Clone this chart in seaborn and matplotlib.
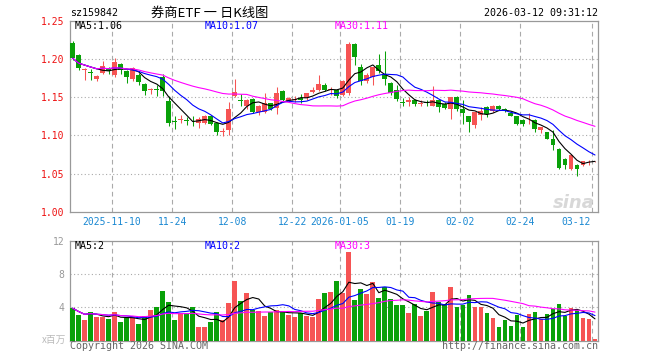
import numpy as np
import pandas as pd
import matplotlib
matplotlib.use("Agg")
import matplotlib.pyplot as plt
import seaborn as sns

# daily OHLC (88 trading days)
opens = [1.221, 1.205, 1.185, 1.183, 1.174, 1.182, 1.188, 1.179, 1.193, 1.184,
         1.174, 1.179, 1.167, 1.159, 1.160, 1.177, 1.145, 1.119, 1.120, 1.120,
         1.118, 1.116, 1.116, 1.125, 1.116, 1.105, 1.107, 1.151, 1.147, 1.139,
         1.148, 1.131, 1.131, 1.142, 1.136, 1.158, 1.145, 1.147, 1.149, 1.149,
         1.157, 1.160, 1.166, 1.159, 1.160, 1.153, 1.155, 1.219, 1.190, 1.171,
         1.176, 1.192, 1.180, 1.168, 1.160, 1.144, 1.144, 1.146, 1.141, 1.144,
         1.139, 1.147, 1.141, 1.135, 1.150, 1.134, 1.125, 1.114, 1.127, 1.137,
         1.132, 1.139, 1.134, 1.130, 1.125, 1.120, 1.117, 1.120, 1.107, 1.104,
         1.096, 1.082, 1.069, 1.056, 1.062, 1.062, 1.066, 1.066]
highs = [1.223, 1.207, 1.188, 1.187, 1.179, 1.197, 1.189, 1.201, 1.195, 1.185,
         1.190, 1.182, 1.169, 1.162, 1.166, 1.180, 1.151, 1.125, 1.127, 1.124,
         1.126, 1.124, 1.127, 1.127, 1.117, 1.110, 1.144, 1.174, 1.154, 1.148,
         1.149, 1.140, 1.156, 1.143, 1.164, 1.160, 1.150, 1.152, 1.154, 1.156,
         1.163, 1.179, 1.169, 1.163, 1.161, 1.172, 1.222, 1.221, 1.193, 1.181,
         1.190, 1.206, 1.210, 1.170, 1.166, 1.149, 1.150, 1.148, 1.147, 1.146,
         1.165, 1.148, 1.144, 1.150, 1.151, 1.147, 1.126, 1.131, 1.137, 1.138,
         1.140, 1.140, 1.136, 1.131, 1.126, 1.121, 1.129, 1.122, 1.111, 1.105,
         1.107, 1.083, 1.070, 1.076, 1.063, 1.067, 1.068, 1.067]
lows = [1.199, 1.185, 1.172, 1.173, 1.171, 1.180, 1.180, 1.177, 1.180, 1.169,
        1.171, 1.166, 1.153, 1.154, 1.152, 1.151, 1.113, 1.108, 1.116, 1.114,
        1.113, 1.110, 1.115, 1.114, 1.101, 1.099, 1.101, 1.150, 1.138, 1.134,
        1.129, 1.127, 1.129, 1.133, 1.128, 1.145, 1.144, 1.144, 1.143, 1.147,
        1.155, 1.158, 1.158, 1.153, 1.149, 1.151, 1.153, 1.192, 1.166, 1.169,
        1.166, 1.182, 1.166, 1.153, 1.145, 1.139, 1.138, 1.139, 1.139, 1.139,
        1.138, 1.131, 1.135, 1.121, 1.132, 1.115, 1.104, 1.110, 1.120, 1.124,
        1.131, 1.133, 1.131, 1.125, 1.114, 1.113, 1.115, 1.104, 1.103, 1.095,
        1.081, 1.056, 1.056, 1.055, 1.047, 1.060, 1.061, 1.065]
closes = [1.201, 1.188, 1.187, 1.182, 1.178, 1.191, 1.184, 1.196, 1.186, 1.176,
          1.188, 1.170, 1.158, 1.161, 1.159, 1.158, 1.116, 1.118, 1.121, 1.119,
          1.117, 1.121, 1.126, 1.115, 1.105, 1.106, 1.134, 1.157, 1.145, 1.147,
          1.131, 1.139, 1.143, 1.134, 1.156, 1.147, 1.149, 1.148, 1.147, 1.155,
          1.159, 1.167, 1.160, 1.160, 1.152, 1.171, 1.219, 1.202, 1.171, 1.179,
          1.190, 1.184, 1.174, 1.155, 1.148, 1.142, 1.147, 1.141, 1.143, 1.142,
          1.147, 1.137, 1.136, 1.150, 1.134, 1.129, 1.117, 1.131, 1.132, 1.128,
          1.138, 1.134, 1.133, 1.126, 1.115, 1.115, 1.118, 1.109, 1.111, 1.096,
          1.088, 1.057, 1.062, 1.075, 1.056, 1.066, 1.067, 1.067]
# volume in millions
volumes = [3.9, 3.1, 2.5, 3.5, 2.9, 2.9, 2.6, 3.5, 2.2, 2.7,
           2.8, 2.0, 3.0, 3.7, 4.0, 6.0, 4.6, 2.5, 3.3, 3.3,
           4.0, 1.6, 1.6, 2.2, 3.4, 2.5, 4.5, 7.2, 4.8, 5.7,
           3.7, 3.6, 3.0, 3.4, 3.7, 3.6, 3.1, 2.9, 3.3, 3.0,
           2.9, 5.0, 5.7, 5.8, 7.2, 5.7, 10.7, 4.9, 6.2, 5.6,
           7.0, 5.1, 6.4, 5.0, 4.3, 4.3, 3.3, 4.4, 3.0, 3.6,
           5.8, 4.7, 4.4, 6.4, 4.0, 4.3, 5.5, 4.0, 4.0, 3.3,
           2.7, 1.6, 2.5, 1.8, 3.1, 1.6, 3.2, 3.4, 2.6, 3.2,
           3.8, 4.4, 3.0, 3.9, 3.7, 2.7, 2.6, 0.2]

tick_bars = [7, 17, 27, 37, 45, 55, 65, 75, 87]
tick_labels = ["2025-11-10", "11-24", "12-08", "12-22", "2026-01-05",
               "01-19", "02-02", "02-24", "03-12"]
price_ticks = [1.00, 1.05, 1.10, 1.15, 1.20, 1.25]
vol_ticks = [4, 8, 12]

ma_price_labels = ["MA5:1.06", "MA10:1.07", "MA30:1.11"]
ma_vol_labels = ["MA5:2", "MA10:2", "MA30:3"]

UP = "#f65454"
DOWN = "#09a109"
MA_COLORS = ["black", "#0000ff", "#ff00ff"]
GRID = "#aaaaaa"

df = pd.DataFrame(dict(open=opens, high=highs, low=lows, close=closes, vol=volumes))
df["i"] = np.arange(len(df))
df["up"] = df["close"] >= df["open"]
for n in (5, 10, 30):
    df[f"ma{n}"] = df["close"].rolling(n, min_periods=1).mean()
    df[f"vma{n}"] = df["vol"].rolling(n, min_periods=1).mean()
colors = list(np.where(df["up"], UP, DOWN))

sns.set_theme(style="white")
plt.rcParams["font.family"] = ["DejaVu Sans Mono", "Noto Sans CJK SC"]

W, H = 660, 360
fig = plt.figure(figsize=(6.6, 3.6), dpi=100)
ax = fig.add_axes([70 / W, 1 - 212 / H, 528 / W, (212 - 20.7) / H])
axv = fig.add_axes([70 / W, 1 - 340.7 / H, 528 / W, 100 / H])

xlim = (-0.44, 87.5)

# candles
ax.vlines(df["i"], df["low"], df["high"], colors=colors, lw=0.75, zorder=3)
body = (df["close"] - df["open"]).abs().clip(lower=0.0012)
ax.bar(df["i"], body, bottom=np.minimum(df["open"], df["close"]),
       width=0.82, color=colors, linewidth=0, zorder=3)
for n, c in zip((5, 10, 30), MA_COLORS):
    sns.lineplot(data=df, x="i", y=f"ma{n}", color=c, lw=0.8, ax=ax, zorder=4)

# volume
sns.barplot(data=df, x="i", y="vol", hue="i", palette=colors, legend=False,
            width=0.8, saturation=1, linewidth=0, ax=axv, zorder=3)
for n, c in zip((5, 10, 30), MA_COLORS):
    sns.lineplot(data=df, x="i", y=f"vma{n}", color=c, lw=0.8, ax=axv, zorder=4)

for a in (ax, axv):
    a.set_xlim(*xlim)
    a.set_xlabel("")
    a.set_ylabel("")
    a.set_xticks([])
    for s in a.spines.values():
        s.set_color("#999999")
        s.set_linewidth(0.9)
    for b in tick_bars:
        a.axvline(b - 0.44, color=GRID, lw=0.8, dashes=(4.2, 3.0), zorder=1)
    a.tick_params(axis="y", length=0, pad=4, labelsize=7)

ax.set_ylim(1.00, 1.25)
ax.set_yticks(price_ticks)
ax.set_yticklabels([f"{t:.2f}" for t in price_ticks], color="#ee1111")
for t in price_ticks[1:-1]:
    ax.axhline(t, color=GRID, lw=0.8, dashes=(1, 2.2), zorder=1)

axv.set_ylim(0, 12)
axv.set_yticks(vol_ticks)
axv.set_yticklabels([str(t) for t in vol_ticks], color="#999999")
for t in vol_ticks[:-1]:
    axv.axhline(t, color=GRID, lw=0.8, dashes=(1, 2.2), zorder=1)

# date labels under the price panel
for b, lab in zip(tick_bars, tick_labels):
    ha = "right" if b == tick_bars[-1] else "center"
    x = b - 0.44 - 0.2 if ha == "right" else b - 0.44
    ax.annotate(lab, xy=(x, 0), xycoords=("data", "axes fraction"),
                xytext=(0, -7.2), textcoords="offset points", ha=ha, va="center",
                fontsize=7, color="#1a88d2")

# header texts
fig.text(70 / W, 1 - 13 / H, "sz159842", fontsize=7.2, va="center", color="black")
fig.text(210 / W, 1 - 13 / H, "券商ETF 一 日K线图", fontsize=9.5, ha="center",
         va="center", color="black", family=["Noto Sans CJK SC", "DejaVu Sans"])
fig.text(598 / W, 1 - 13 / H, "2026-03-12 09:31:12", fontsize=7.2, ha="right",
         va="center", color="black")

for lab, c, x in zip(ma_price_labels, MA_COLORS, (74.5, 204.5, 334.5)):
    fig.text(x / W, 1 - 26 / H, lab, fontsize=7.2, va="center", color=c)
for lab, c, x in zip(ma_vol_labels, MA_COLORS, (74.5, 204.5, 334.5)):
    fig.text(x / W, 1 - 246 / H, lab, fontsize=7.2, va="center", color=c)

fig.text(595 / W, 1 - 203 / H, "sina", fontsize=13, ha="right", va="center",
         color="#d8d8d8", style="italic", weight="bold", family="DejaVu Sans")
fig.text(66 / W, 1 - 340 / H, "x百万", fontsize=7, ha="right", va="center",
         color="#bbbbbb", family=["Noto Sans CJK SC", "DejaVu Sans"])
fig.text(70 / W, 1 - 346 / H, "Copyright 2026 SINA.COM", fontsize=7.2,
         va="center", color="#666666")
fig.text(598 / W, 1 - 346 / H, "http://finance.sina.com.cn", fontsize=7.2,
         ha="right", va="center", color="#666666")

fig.savefig("out.png", dpi=100)
